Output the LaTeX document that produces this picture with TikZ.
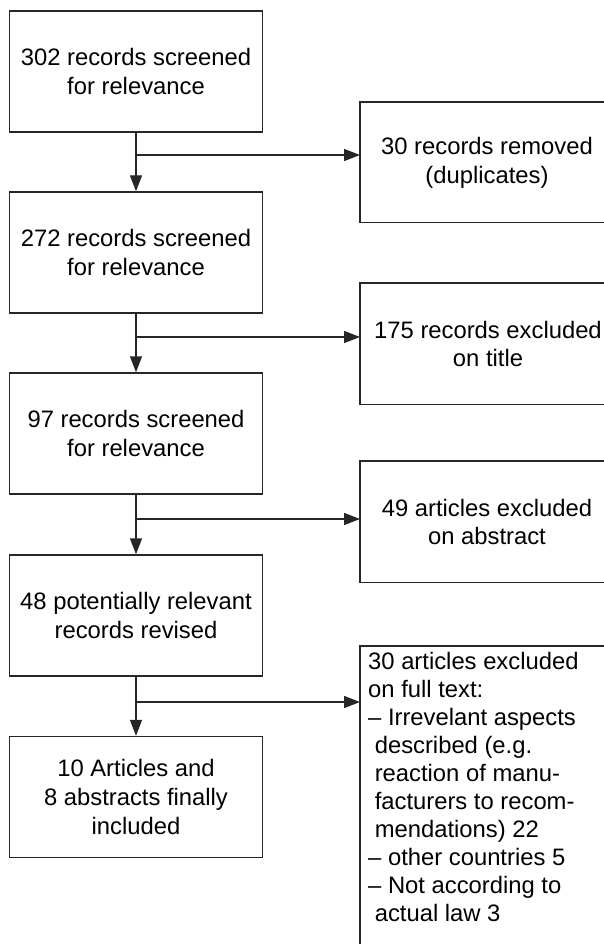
\documentclass[tikz,border=0pt]{standalone}
\usepackage{fontspec}
\setmainfont{Liberation Sans}
\usetikzlibrary{arrows.meta}
\begin{document}
\begin{tikzpicture}[x=1pt,y=-1pt,
  box/.style={draw=black!85, line width=1.4pt, minimum width=253pt, minimum height=121pt,
    inner sep=0pt, align=center, font=\fontsize{23.8}{28.8}\selectfont},
  rbox/.style={inner sep=0pt, minimum width=244pt, anchor=north west},
  openbox/.style={draw=black!85, line width=1.4pt, line cap=butt},
  rtext/.style={inner sep=0pt, align=center, font=\fontsize{23.8}{28.8}\selectfont},
  arr/.style={draw=black!85, line width=1.4pt, -{Triangle[length=16pt,width=12pt]}},
  listtext/.style={anchor=north west, inner sep=0pt, align=left, font=\fontsize{23.8}{28}\selectfont}
]
\useasboundingbox (0,0) rectangle (604,944);
% left column
\node[box] (l1) at (136,71.5) {302 records screened\\for relevance};
\node[box] (l2) at (136,252.5) {272 records screened\\for relevance};
\node[box] (l3) at (136,433.5) {97 records screened\\for relevance};
\node[box] (l4) at (136,615.5) {48 potentially relevant\\records revised};
\node[box] (l5) at (136,797) {10 Articles and\\8 abstracts finally\\included};
% right column: boxes run past the right edge of the picture (open on the right)
\node[rbox, minimum height=120pt] (r1) at (360,102) {};
\node[rbox, minimum height=121pt] (r2) at (360,283) {};
\node[rbox, minimum height=121pt] (r3) at (360,461) {};
\node[rbox, minimum height=298pt] (r4) at (360,646) {};
\draw[openbox] (r1.north east) -- (r1.north west) -- (r1.south west) -- (r1.south east);
\draw[openbox] (r2.north east) -- (r2.north west) -- (r2.south west) -- (r2.south east);
\draw[openbox] (r3.north east) -- (r3.north west) -- (r3.south west) -- (r3.south east);
\draw[openbox] (r4.north east) -- (r4.north west) -- (r4.south west);
\node[rtext] (r1t) at (487,163) {30 records removed\\(duplicates)};
\node[rtext] (r2t) at (488,344) {175 records excluded\\on title};
\node[rtext] (r3t) at (487,522) {49 articles excluded\\on abstract};
\node[listtext] (r4t) at (368,652) {30 articles excluded\\
on full text:\\
– Irrevelant aspects\\
\hspace*{6.6pt}described (e.g.\\
\hspace*{6.6pt}reaction of manu-\\
\hspace*{6.6pt}facturers to recom-\\
\hspace*{6.6pt}mendations) 22\\
– other countries 5\\
– Not according to\\
\hspace*{6.6pt}actual law 3};
% branch points
\coordinate (b1) at (136,155);
\coordinate (b2) at (136,337);
\coordinate (b3) at (136,519);
\coordinate (b4) at (136,702);
% connectors
\draw[arr] (l1.south) -- (l2.north);
\draw[arr] (l2.south) -- (l3.north);
\draw[arr] (l3.south) -- (l4.north);
\draw[arr] (l4.south) -- (l5.north);
\draw[arr] (b1) -- (b1 -| r1.west);
\draw[arr] (b2) -- (b2 -| r2.west);
\draw[arr] (b3) -- (b3 -| r3.west);
\draw[arr] (b4) -- (b4 -| r4.west);
\end{tikzpicture}
\end{document}
